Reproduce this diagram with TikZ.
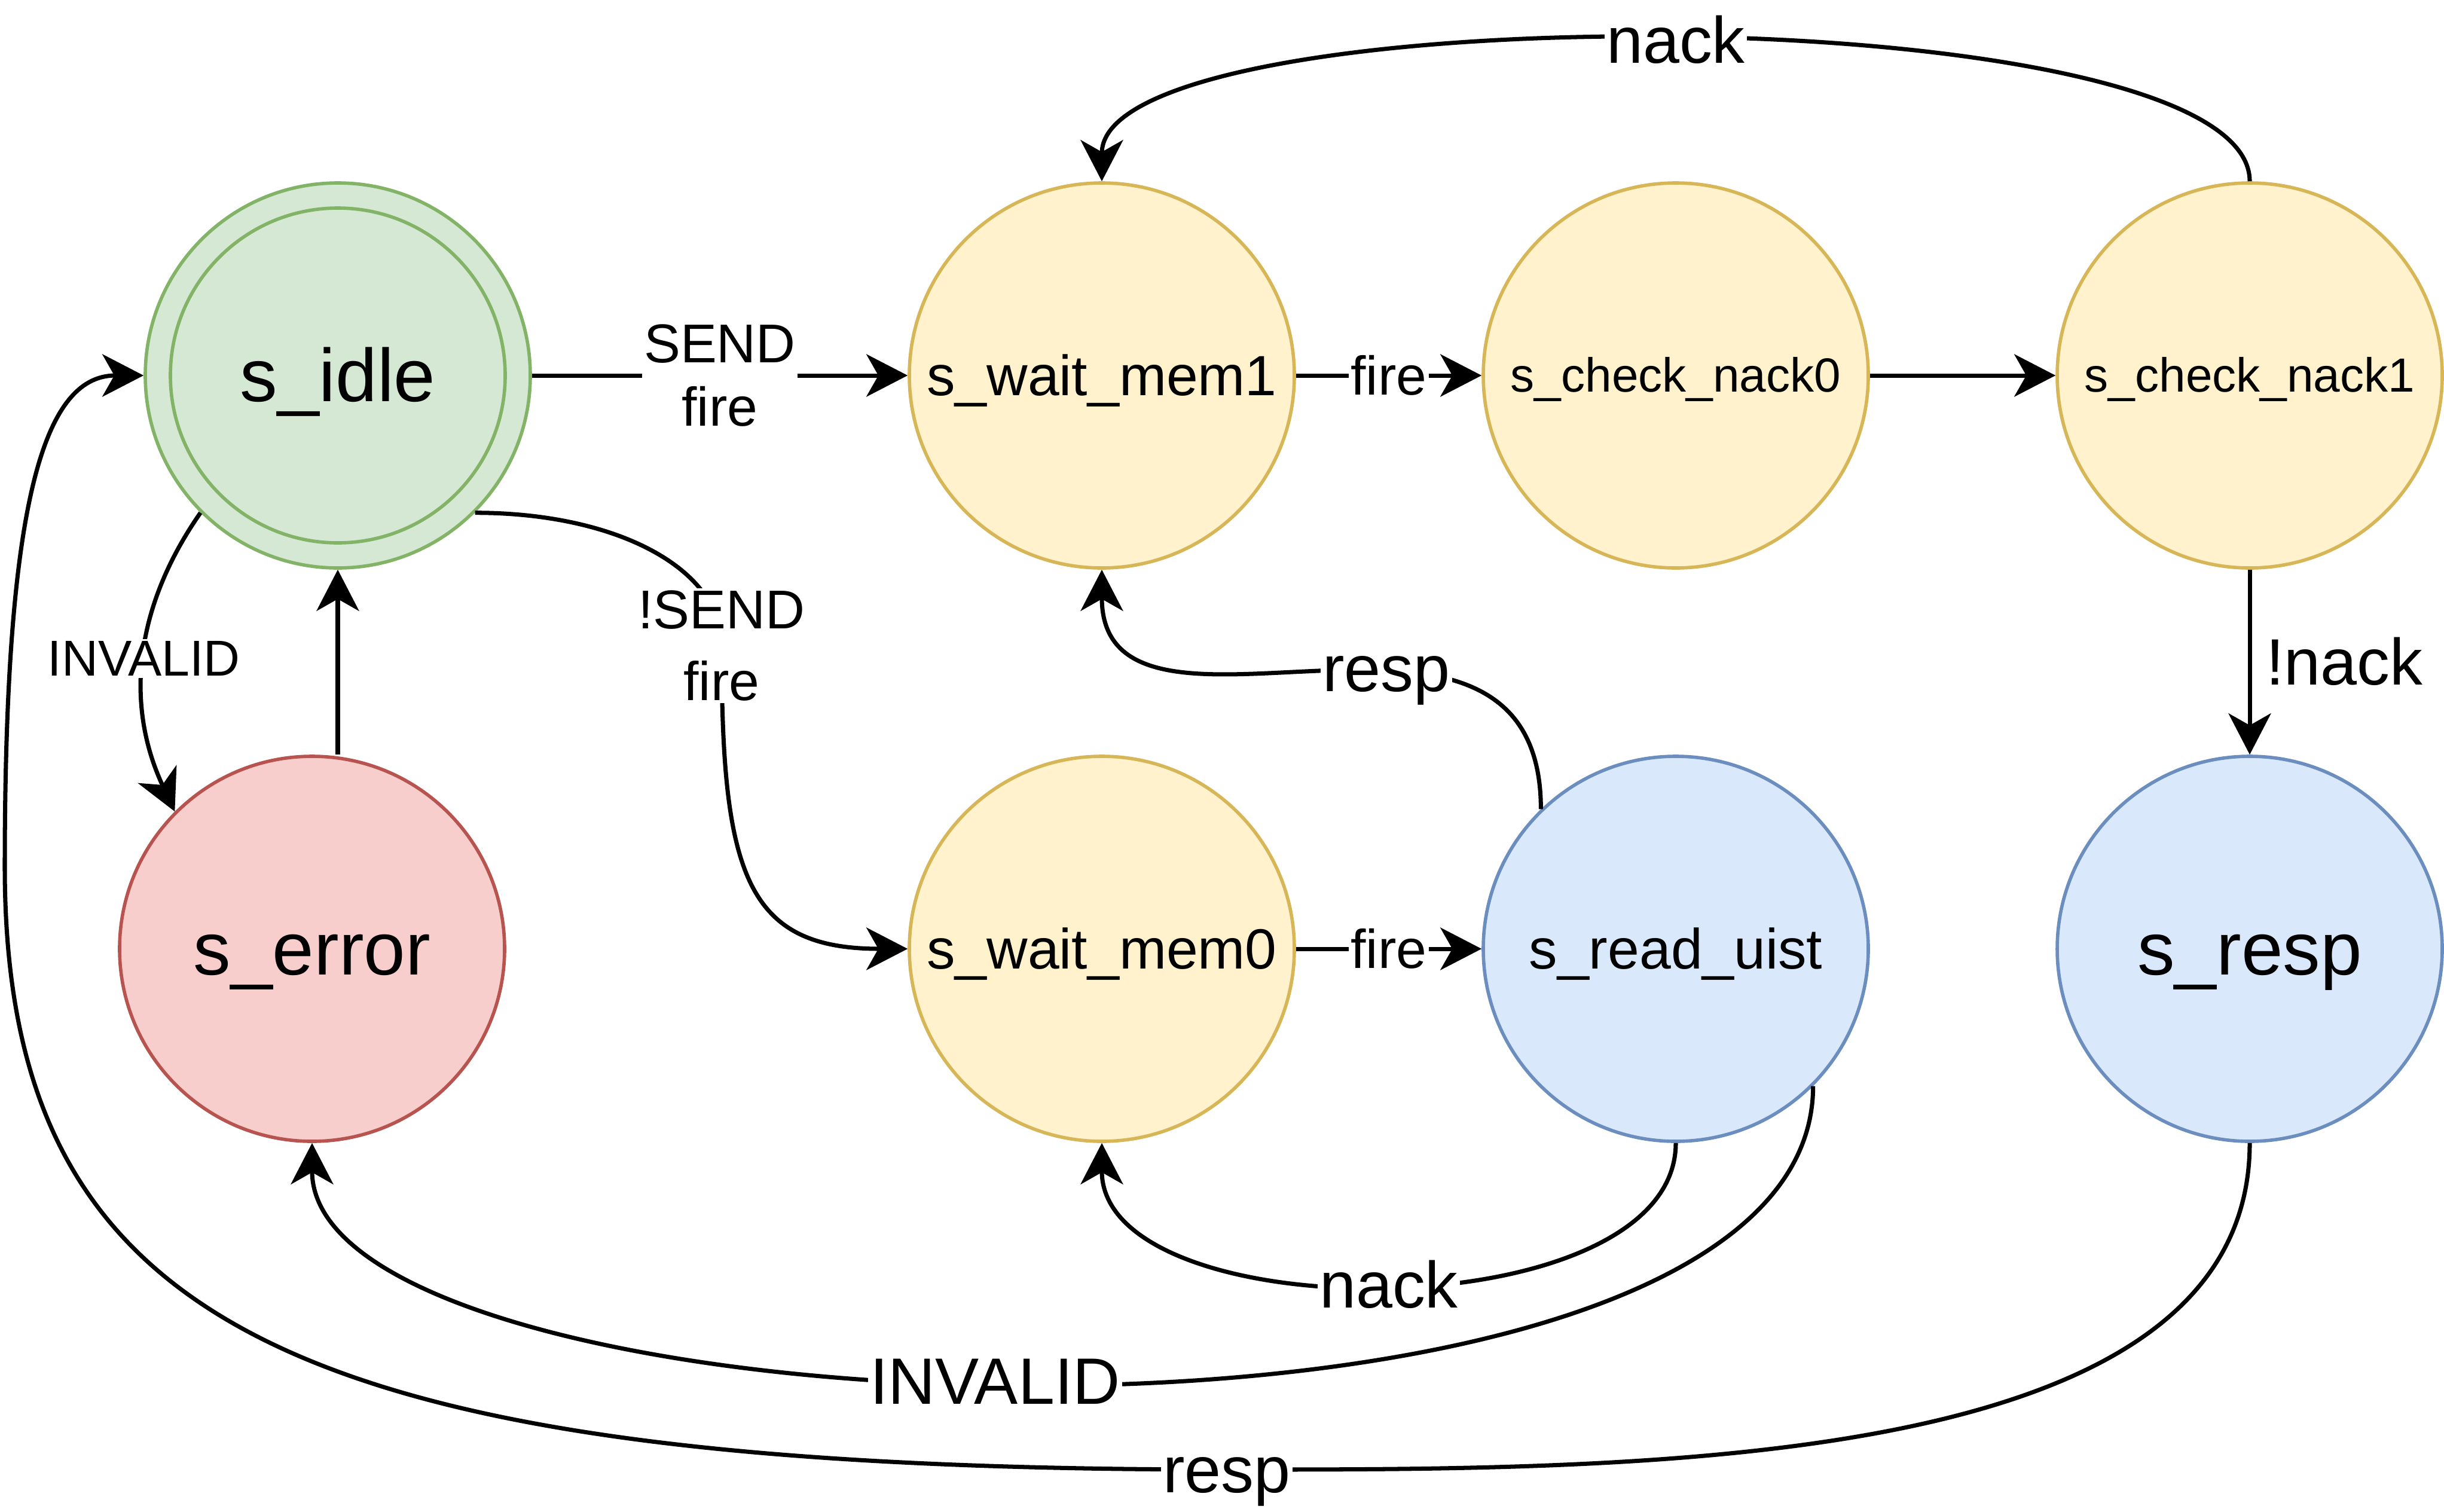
\documentclass[tikz,border=0pt]{standalone}
\usepackage{fontspec}
\setmainfont{Liberation Sans}
\usepackage{tikz}
\usetikzlibrary{arrows.meta,positioning,calc}

\definecolor{greenfill}{HTML}{D5E8D4}
\definecolor{greenline}{HTML}{82B366}
\definecolor{yellowfill}{HTML}{FFF2CC}
\definecolor{yellowline}{HTML}{D6B656}
\definecolor{redfill}{HTML}{F8CECC}
\definecolor{redline}{HTML}{B85450}
\definecolor{bluefill}{HTML}{DAE8FC}
\definecolor{blueline}{HTML}{6C8EBF}

\begin{document}
\begin{tikzpicture}[
    fsm/.style={circle, draw, line width=1.6pt, minimum size=6.44cm, inner sep=0pt},
    idlestate/.style={fsm, fill=greenfill, draw=greenline},
    waitstate/.style={fsm, fill=yellowfill, draw=yellowline},
    errstate/.style={fsm, fill=redfill, draw=redline},
    outstate/.style={fsm, fill=bluefill, draw=blueline},
    bigtxt/.style={font=\fontsize{35.6}{40}\selectfont, text height=32pt, text depth=7.1pt},
    midtxt/.style={font=\fontsize{27}{32}\selectfont, text height=24.3pt, text depth=5.4pt},
    smalltxt/.style={font=\fontsize{22.8}{27}\selectfont, text height=20.5pt, text depth=4.6pt},
    trans/.style={line width=2pt, -{Stealth[length=0.69cm, width=0.71cm, inset=0.2cm]}},
    cond/.style={fill=white, inner sep=1pt, align=center, font=\fontsize{26}{30}\selectfont},
    event/.style={fill=white, inner sep=1pt, font=\fontsize{31.2}{36}\selectfont,
        text height=28pt, text depth=6.2pt}
]
    \path[fill=white, use as bounding box] (0,0) rectangle (40.88,-25.28);

    % States
    \node[idlestate, bigtxt] (idle) at (5.65,-6.28) {s\_idle};
    \draw[greenline, line width=1.6pt] (idle.center) circle (2.80);
    \node[errstate, bigtxt] (error) at (5.22,-15.87) {s\_error};
    \node[waitstate, midtxt] (mem1) at (18.43,-6.28) {s\_wait\_mem1};
    \node[waitstate, smalltxt] (nack0) at (28.03,-6.28) {s\_check\_nack0};
    \node[waitstate, smalltxt] (nack1) at (37.63,-6.28) {s\_check\_nack1};
    \node[waitstate, midtxt] (mem0) at (18.43,-15.87) {s\_wait\_mem0};
    \node[outstate, midtxt] (read) at (28.03,-15.87) {s\_read\_uist};
    \node[outstate, bigtxt] (resp) at (37.63,-15.87) {s\_resp};

    % Waypoints
    \coordinate (sendK) at (12.07,-10.80);
    \coordinate (respL) at (20.52,-24.58);
    \coordinate (respW) at (0.08,-14.50);

    % Top row
    \draw[trans] (idle) -- node[cond] {SEND\\fire} (mem1);
    \draw[trans] (mem1) -- node[cond] {fire} (nack0);
    \draw[trans] (nack0) -- (nack1);
    \draw[trans] (nack1.north) .. controls +(0,3.15) and +(0,3.15) .. node[event] {nack} (mem1.north);
    \draw[trans] (nack1) -- node[event, fill=none, right, xshift=0.2cm] {!nack} (resp);

    % Bottom row
    \draw[trans] (mem0) -- node[cond] {fire} (read);
    \draw[trans] (read.134) .. controls +(0,4.56) and +(0,-3.57) .. node[pos=0.4, event] {resp} (mem1.south);
    \draw[trans] (read.south) .. controls +(0,-3.16) and +(0,-3.16) .. node[event] {nack} (mem0.south);
    \draw[trans] (read.-45) .. controls +(0,-6.88) and +(0,-5.05) .. node[pos=0.53, event] {INVALID} (error.south);

    % Back to idle
    \draw[trans] (resp.south) .. controls +(0,-5.5) and +(7.0,0) .. (respL) node[event] {resp}
        .. controls +(-15.5,0) and +(0,-7.75) .. (respW)
        .. controls +(0,6.0) and +(-1.7,0) .. (idle.west);
    \draw[trans] (idle.225) to[bend right=30] node[cond, font=\fontsize{24}{28}\selectfont] {INVALID} (error.135);
    \draw[trans] (idle.south |- error.north) -- (idle.south);
    \draw[trans] (idle.-45) .. controls +(2.35,0) and +(0,1.30) .. (sendK) node[cond, font=\fontsize{26}{34}\selectfont] {!SEND\\fire}
        .. controls +(0,-3.81) and +(-2.71,0) .. (mem0.west);
\end{tikzpicture}
\end{document}
